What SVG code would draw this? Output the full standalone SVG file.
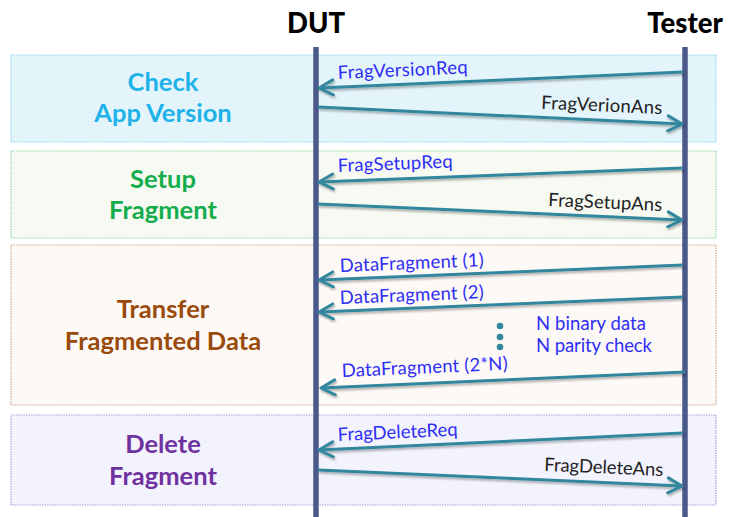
<svg xmlns="http://www.w3.org/2000/svg" width="729" height="517" viewBox="0 0 729 517">
<style>
.box{stroke-width:1.2;stroke-dasharray:1.5 1}
.title{font-family:Lato,"Open Sans","Liberation Sans",sans-serif;font-weight:bold;font-size:25.5px;text-anchor:middle}
.head{font-family:Lato,"Open Sans","Liberation Sans",sans-serif;font-weight:900;font-size:27.5px;text-anchor:middle;fill:#000}
.lbl{font-family:Lato,"Open Sans","Liberation Sans",sans-serif;font-size:18.5px}
.req{fill:#2e2ef5}
.ans{fill:#222;text-anchor:end}
.msg{stroke:#31879e;stroke-width:3;fill:none;marker-end:url(#ah);filter:url(#sh)}
.life{stroke:#4a588a;stroke-width:5.5}
</style>
<defs>
<marker id="ah" viewBox="0 0 18 18" refX="16" refY="9" markerWidth="18" markerHeight="18" markerUnits="userSpaceOnUse" orient="auto">
<path d="M2,1.5 L16,9 L2,16.5" fill="none" stroke="#31879e" stroke-width="3" stroke-linecap="round" stroke-linejoin="round"/>
</marker>
<filter id="sh" x="-5%" y="-100%" width="110%" height="300%">
<feDropShadow dx="1" dy="2" stdDeviation="1.2" flood-color="#000" flood-opacity="0.3"/>
</filter>
</defs>

<g id="phase-check">
<rect class="box" x="11" y="55" width="705" height="87" fill="#e4f4fb" stroke="#8fd6f2"/>
<text class="title" x="163" y="91" fill="#1eb2ea">Check</text>
<text class="title" x="163" y="122" fill="#1eb2ea">App Version</text>
</g>
<g id="phase-setup">
<rect class="box" x="11" y="151" width="705" height="87" fill="#f6faf2" stroke="#8fd9a8"/>
<text class="title" x="163" y="188" fill="#14ad4c">Setup</text>
<text class="title" x="163" y="219" fill="#14ad4c">Fragment</text>
</g>
<g id="phase-transfer">
<rect class="box" x="11" y="245" width="705" height="160" fill="#fdf9f6" stroke="#d2a88a"/>
<text class="title" x="163" y="318" fill="#9a4a0b">Transfer</text>
<text class="title" x="163" y="350" fill="#9a4a0b">Fragmented Data</text>
</g>
<g id="phase-delete">
<rect class="box" x="11" y="415" width="705" height="90" fill="#f3f3fd" stroke="#b99ad8"/>
<text class="title" x="163" y="453" fill="#7031a0">Delete</text>
<text class="title" x="163" y="485" fill="#7031a0">Fragment</text>
</g>

<g id="dut">
<text class="head" x="316" y="33">DUT</text>
<line class="life" x1="316" y1="47" x2="316" y2="517"/>
</g>
<g id="tester">
<text class="head" x="685" y="33">Tester</text>
<line class="life" x1="685" y1="47" x2="685" y2="517"/>
</g>

<g id="connectors">
<line class="msg" x1="683" y1="72" x2="319" y2="88"/>
<line class="msg" x1="318" y1="107" x2="682" y2="124"/>
<line class="msg" x1="683" y1="168" x2="319" y2="182"/>
<line class="msg" x1="318" y1="204" x2="682" y2="220"/>
<line class="msg" x1="683" y1="265" x2="319" y2="280"/>
<line class="msg" x1="683" y1="297" x2="319" y2="312"/>
<line class="msg" x1="685" y1="372" x2="321" y2="388"/>
<line class="msg" x1="683" y1="433" x2="319" y2="450"/>
<line class="msg" x1="318" y1="470" x2="682" y2="486"/>
</g>

<g id="labels">
<text class="lbl req" x="338" y="79" textLength="130" transform="rotate(-2.5 338 79)">FragVersionReq</text>
<text class="lbl ans" x="662" y="114" textLength="121" transform="rotate(2.5 662 114)">FragVerionAns</text>
<text class="lbl req" x="338" y="172" textLength="115" transform="rotate(-2.2 338 172)">FragSetupReq</text>
<text class="lbl ans" x="662" y="211" textLength="114" transform="rotate(2.5 662 211)">FragSetupAns</text>
<text class="lbl req" x="340" y="272" textLength="144" transform="rotate(-2.3 340 272)">DataFragment (1)</text>
<text class="lbl req" x="340" y="304" textLength="144" transform="rotate(-2.3 340 304)">DataFragment (2)</text>
<text class="lbl req" x="342" y="377" textLength="166" transform="rotate(-2.5 342 377)">DataFragment (2*N)</text>
<text class="lbl req" x="536" y="330" textLength="110">N binary data</text>
<text class="lbl req" x="536" y="352" textLength="116">N parity check</text>
<text class="lbl req" x="338" y="441" textLength="120" transform="rotate(-2.6 338 441)">FragDeleteReq</text>
<text class="lbl ans" x="663" y="476" textLength="119" transform="rotate(2.5 663 476)">FragDeleteAns</text>
</g>
<g id="ellipsis" fill="#31879e">
<circle cx="500" cy="326" r="3.3"/>
<circle cx="500" cy="337" r="3.3"/>
<circle cx="500" cy="347" r="3.3"/>
</g>
</svg>
